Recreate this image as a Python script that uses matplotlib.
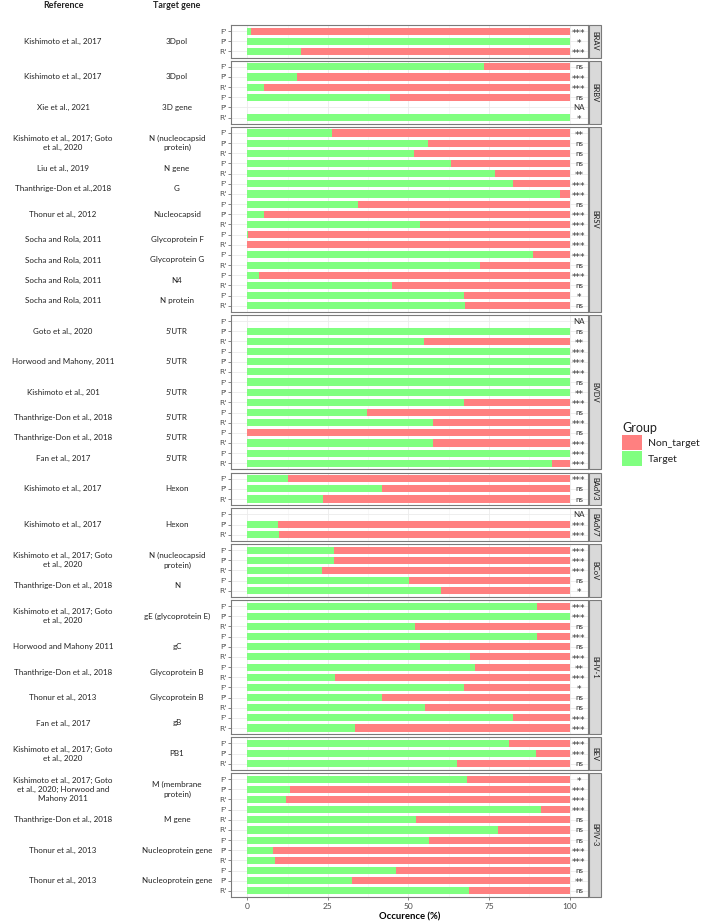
import numpy as np
import matplotlib
matplotlib.use("Agg")
import matplotlib.pyplot as plt
import matplotlib.transforms as mtransforms
from matplotlib.patches import Patch, Rectangle

plt.rcParams['font.family'] = ['Lato', 'DejaVu Sans']

# ---------------- data ----------------
viruses = ["BRAV", "BRBV", "BRSV", "BVDV", "BAdV3", "BAdV7", "BCoV", "BHV-1", "BEV", "BPIV-3"]
virus_rows = [3, 6, 18, 15, 3, 3, 5, 13, 3, 12]

row_labels = (
    ["F'", "P'", "R'"] +
    ["F'", "P'", "R'", "F'", "P'", "R'"] +
    ["F'", "P'", "R'", "F'", "R'", "F'", "R'", "F'", "P'", "R'", "F'", "R'", "F'", "R'", "F'", "R'", "F'", "R'"] +
    ["F'", "P'", "R'", "F'", "P'", "R'", "F'", "P'", "R'", "F'", "R'", "F'", "R'", "F'", "R'"] +
    ["F'", "P'", "R'"] +
    ["F'", "P'", "R'"] +
    ["F'", "P'", "R'", "F'", "R'"] +
    ["F'", "P'", "R'", "F'", "P'", "R'", "F'", "R'", "F'", "P'", "R'", "F'", "R'"] +
    ["F'", "P'", "R'"] +
    ["F'", "P'", "R'", "F'", "R'", "R'", "F'", "P'", "R'", "F'", "P'", "R'"]
)

nan = np.nan
target_pct = (
    [1.2, 100, 16.7] +
    [73.3, 15.5, 5.3, 44.4, nan, 100] +
    [26.3, 56.0, 51.8, 63.2, 76.9, 82.3, 97.0, 34.2, 5.3, 53.6, 0.3, 0.0, 88.5, 72.3, 3.7, 44.8, 67.1, 67.6] +
    [nan, 100, 54.9, 100, 100, 100, 100, 100, 67.3, 37.1, 57.7, 0.0, 57.6, 100, 94.4] +
    [12.6, 41.8, 23.5] +
    [nan, 9.4, 9.7] +
    [27.0, 26.8, 23.2, 50.3, 60.2] +
    [90.0, 100, 52.1, 90.0, 53.6, 69.0, 70.8, 27.2, 67.1, 41.8, 55.1, 82.4, 33.5] +
    [81.3, 89.5, 65.1] +
    [68.2, 13.4, 11.9, 91.0, 52.3, 77.8, 56.3, 7.9, 8.6, 46.1, 32.6, 68.7]
)

sig_labels = (
    ["***", "*", "***"] +
    ["ns", "***", "***", "ns", "NA", "*"] +
    ["**", "ns", "ns", "ns", "**", "***", "***", "ns", "***", "***", "***", "***", "***", "ns", "***", "ns", "*", "ns"] +
    ["NA", "ns", "**", "***", "***", "***", "ns", "**", "***", "ns", "***", "ns", "***", "***", "***"] +
    ["***", "ns", "ns"] +
    ["NA", "***", "***"] +
    ["***", "***", "***", "ns", "*"] +
    ["***", "***", "ns", "***", "ns", "***", "**", "***", "*", "ns", "ns", "***", "***"] +
    ["***", "***", "ns"] +
    ["*", "***", "***", "***", "ns", "ns", "ns", "***", "***", "ns", "**", "ns"]
)

ref_labels = [
    "Kishimoto et al., 2017",
    "Kishimoto et al., 2017", "Xie et al., 2021",
    "Kishimoto et al., 2017; Goto\net al., 2020", "Liu et al., 2019", "Thanthrige-Don et al.,2018",
    "Thonur et al., 2012", "Socha and Rola, 2011", "Socha and Rola, 2011", "Socha and Rola, 2011",
    "Socha and Rola, 2011",
    "Goto et al., 2020", "Horwood and Mahony, 2011", "Kishimoto et al., 201",
    "Thanthrige-Don et al., 2018", "Thanthrige-Don et al., 2018", "Fan et al., 2017",
    "Kishimoto et al., 2017",
    "Kishimoto et al., 2017",
    "Kishimoto et al., 2017; Goto\net al., 2020", "Thanthrige-Don et al., 2018",
    "Kishimoto et al., 2017; Goto\net al., 2020", "Horwood and Mahony 2011", "Thanthrige-Don et al., 2018",
    "Thonur et al., 2013", "Fan et al., 2017",
    "Kishimoto et al., 2017; Goto\net al., 2020",
    "Kishimoto et al., 2017; Goto\net al., 2020; Horwood and\nMahony 2011", "Thanthrige-Don et al., 2018",
    "Thonur et al., 2013", "Thonur et al., 2013",
]
gene_labels = [
    "3Dpol",
    "3Dpol", "3D gene",
    "N (nucleocapsid\nprotein)", "N gene", "G", "Nucleocapsid", "Glycoprotein F", "Glycoprotein G",
    "N4", "N protein",
    "5\u2019UTR", "5\u2019UTR", "5\u2019UTR", "5\u2019UTR", "5\u2019UTR", "5\u2019UTR",
    "Hexon",
    "Hexon",
    "N (nucleocapsid\nprotein)", "N",
    "gE (glycoprotein E)", "gC", "Glycoprotein B", "Glycoprotein B", "gB",
    "PB1",
    "M (membrane\nprotein)", "M gene", "Nucleoprotein gene", "Nucleoprotein gene",
]
group_rows = [3, 3, 3, 3, 2, 2, 3, 2, 2, 2, 2, 3, 3, 3, 2, 2, 2, 3, 3, 3, 2,
              3, 3, 2, 3, 2, 3, 3, 3, 3, 3]

group_names = ["Non_target", "Target"]
colors = {"Non_target": "#FF8080", "Target": "#80FF80"}

# ---------------- layout ----------------
W, H = 708, 924
fig = plt.figure(figsize=(W / 100, H / 100), dpi=100)

left_px, right_px = 231, 588
top_px, bot_px = 25, 897
gap_px = 3.2
npan = len(viruses)
unit = (bot_px - top_px - gap_px * (npan - 1)) / (sum(virus_rows) + 0.2 * npan)

px_per = (489 - 247.3) / 75.0
xmin = (left_px - 247.3) / px_per
xmax = (right_px - 247.3) / px_per
sig_x = (579 - 247.3) / px_per

axes = []
starts = np.cumsum([0] + virus_rows[:-1])
y = top_px
for p, (v, n) in enumerate(zip(viruses, virus_rows)):
    h = (n + 0.2) * unit
    ax = fig.add_axes([left_px / W, 1 - (y + h) / H, (right_px - left_px) / W, h / H])
    s = starts[p]
    vals = np.array(target_pct[s:s + n], dtype=float)
    labs = row_labels[s:s + n]
    sigs = sig_labels[s:s + n]
    pos = np.arange(n)
    ok = ~np.isnan(vals)
    ax.barh(pos[ok], vals[ok], height=0.7, color=colors["Target"], zorder=2)
    ax.barh(pos[ok], 100 - vals[ok], left=vals[ok], height=0.7,
            color=colors["Non_target"], zorder=2)
    for i, t in enumerate(sigs):
        if t in ('ns', 'NA'):
            ax.text(sig_x, i, t, ha='center', va='center', fontsize=5.8, color='#333333')
        else:
            ax.text(sig_x, i + 0.22, t, ha='center', va='center', fontsize=6.6,
                    color='#333333', family=['DejaVu Sans'])
    ax.set_xlim(xmin, xmax)
    ax.set_ylim(n - 0.4, -0.6)
    ax.set_yticks(pos)
    ax.set_yticklabels(labs, fontsize=5.4, color='#4d4d4d', family=['DejaVu Sans'])
    ax.set_xticks([0, 25, 50, 75, 100])
    ax.set_xticks([12.5, 37.5, 62.5, 87.5], minor=True)
    ax.grid(which='major', color='#EBEBEB', lw=0.6, zorder=0)
    ax.grid(which='minor', axis='x', color='#F4F4F4', lw=0.4, zorder=0)
    ax.set_axisbelow(True)
    ax.tick_params(axis='y', length=2.2, width=0.5, color='#555555', pad=1)
    ax.tick_params(axis='x', which='minor', length=0)
    for sp in ax.spines.values():
        sp.set_color('#7a7a7a')
        sp.set_linewidth(0.8)
    if p < npan - 1:
        ax.tick_params(axis='x', which='major', length=0, labelbottom=False)
    else:
        ax.tick_params(axis='x', which='major', length=2.2, width=0.5, color='#555555',
                       labelsize=6, labelcolor='#4d4d4d', pad=2)
        ax.set_xticklabels(['0', '25', '50', '75', '100'])
        ax.set_xlabel("Occurence (%)", fontsize=6.8, fontweight='bold', labelpad=2)
    # strip
    fig.patches.append(Rectangle(((right_px + 1) / W, 1 - (y + h) / H), 11.5 / W, h / H,
                                 transform=fig.transFigure, facecolor='#D9D9D9',
                                 edgecolor='#7a7a7a', lw=0.8, zorder=3))
    fig.text((right_px + 1 + 5.75) / W, 1 - (y + h / 2) / H, v, rotation=270,
             ha='center', va='center', fontsize=5.4, color='#1a1a1a', zorder=4)
    axes.append(ax)
    y += h + gap_px

# left text columns
gstart = np.cumsum([0] + group_rows[:-1])
panel_of_row = np.repeat(np.arange(npan), virus_rows)
for ref, gene, g0, gn in zip(ref_labels, gene_labels, gstart, group_rows):
    p = panel_of_row[g0]
    ax = axes[p]
    local = g0 - starts[p]
    yc = local + (gn - 1) / 2.0
    tr = mtransforms.blended_transform_factory(fig.transFigure, ax.transData)
    ax.text(63 / W, yc, ref, transform=tr, ha='center', va='center', fontsize=5.8,
            color='#222222', linespacing=1.35)
    ax.text(177 / W, yc, gene, transform=tr, ha='center', va='center', fontsize=5.8,
            color='#222222', linespacing=1.35)

fig.text(63 / W, 1 - 6 / H, "Reference", ha='center', va='center', fontsize=6.4,
         fontweight='bold', color='#222222')
fig.text(177 / W, 1 - 6 / H, "Target gene", ha='center', va='center', fontsize=6.4,
         fontweight='bold', color='#222222')

# legend
handles = [Patch(facecolor=colors[g], edgecolor='none') for g in group_names]
leg = fig.legend(handles, group_names, title="Group", loc='upper left',
                 bbox_to_anchor=(618 / W, 1 - 418 / H), frameon=False,
                 fontsize=7.5, title_fontsize=9, handlelength=1.9, handleheight=1.9,
                 labelspacing=0.05, handletextpad=0.6, borderaxespad=0)
leg._legend_box.align = "left"
leg.get_title().set_color('#222222')
for t in leg.get_texts():
    t.set_color('#222222')

fig.savefig("out.png", dpi=100)
